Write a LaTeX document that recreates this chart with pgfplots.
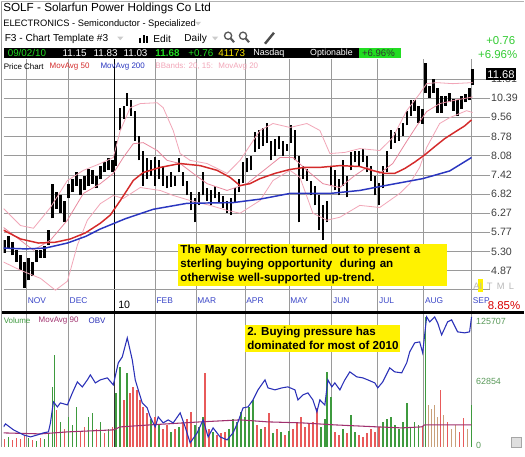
\documentclass[border=0pt]{standalone}
\usepackage{pgfplots}
\usepackage{pgfplotstable}
\pgfplotsset{compat=1.18}
\usepackage{fontspec}
\setmainfont{Liberation Sans}
\newcommand\fs[1]{\fontsize{#1}{#1}\selectfont}
\definecolor{mared}{HTML}{D42A2A}
\definecolor{mablue}{HTML}{2A36C0}
\definecolor{bbpink}{HTML}{F2A6B8}
\definecolor{mapink}{HTML}{E8889E}
\definecolor{vgreen}{HTML}{3E9A3E}
\definecolor{vred}{HTML}{E85A5A}
\definecolor{vtan}{HTML}{C8A07A}
\definecolor{obvblue}{HTML}{2A30B8}
\definecolor{mapurple}{HTML}{A0306E}
\definecolor{gridgray}{HTML}{9A9A9A}
\definecolor{monthblue}{HTML}{3A46C8}
\definecolor{hdrgreen}{HTML}{33CC33}
\definecolor{brightgreen}{HTML}{22DD22}
\definecolor{lblgreen}{HTML}{5A9A5A}

\pgfplotstableread{
x lo hi
4 5.26 5.57
8 5.38 5.67
12 5.21 5.52
16 5.06 5.33
20 4.88 5.21
24 4.51 5.06
28 4.67 5.15
32 4.75 5.06
36 5.06 5.33
40 5.15 5.33
44 5.15 5.43
48 5.45 5.82
52 6.13 7.14
56 6.40 6.87
60 6.29 6.78
64 6.02 6.63
68 6.69 7.14
72 6.87 7.30
76 7.08 7.50
80 6.78 7.30
84 6.93 7.37
88 7.08 7.63
92 7.14 7.57
96 6.99 7.40
100 7.30 7.73
104 7.50 7.84
108 7.57 7.98
112 7.50 7.91
116 7.73 8.63
120 9.02 9.97
124 9.50 10.06
127 10.06 10.64
131 9.63 10.29
135 8.63 9.84
139 7.91 8.82
143 7.08 8.26
147 7.30 7.98
151 7.40 7.91
155 7.08 8.04
159 7.30 7.91
163 7.08 7.73
167 6.99 7.40
171 7.05 7.50
175 7.08 7.40
179 7.50 7.98
183 7.08 7.50
187 6.78 7.24
191 6.35 6.87
195 6.02 6.69
199 6.49 6.87
203 6.78 7.50
207 6.63 6.99
211 6.49 6.93
215 6.69 7.08
219 6.57 6.87
223 6.43 6.75
227 6.29 6.63
231 6.21 6.69
235 6.57 6.99
239 6.87 7.30
243 7.17 7.84
247 7.50 7.98
251 7.57 8.08
255 8.19 8.94
259 8.33 9.02
263 8.44 9.10
267 8.55 9.34
271 7.91 8.63
275 8.08 8.70
279 8.33 8.82
283 8.08 8.63
287 8.26 8.51
291 8.55 9.22
295 7.91 9.02
299 6.02 8.08
303 7.30 7.73
307 7.24 7.63
311 6.78 7.24
315 6.49 7.08
319 5.82 6.78
323 5.57 6.49
327 6.02 6.63
331 7.08 7.73
335 6.93 7.57
339 6.78 7.30
343 7.08 7.91
347 6.72 7.40
351 7.57 8.19
355 7.84 8.26
359 7.73 8.26
363 7.84 8.33
367 7.50 8.08
371 7.24 7.73
375 6.78 7.40
379 6.49 7.17
383 6.99 7.73
387 7.50 8.26
391 8.33 9.02
395 8.55 8.94
399 8.63 9.10
403 8.82 9.34
407 9.22 9.84
411 9.63 10.29
415 9.84 10.29
419 9.34 10.06
423 9.30 9.93
426 10.64 12.11
430 10.42 10.99
434 10.64 11.33
438 9.76 10.85
442 9.76 10.51
446 10.06 10.51
450 10.20 10.64
454 9.84 10.38
458 9.63 10.29
462 9.93 10.51
466 10.20 10.60
470 10.29 10.85
473 11.03 11.83
}\candles

\pgfplotstableread{
x y
3 5.82
20 5.60
38 5.50
55 5.52
70 5.60
85 5.75
100 6.00
110 6.22
120 6.63
127 6.95
133 7.24
143 7.50
160 7.67
180 7.80
200 7.73
217 7.57
230 7.34
240 7.08
250 7.14
260 7.30
275 7.47
290 7.60
305 7.67
320 7.67
340 7.73
360 7.70
372 7.57
385 7.47
395 7.47
405 7.63
415 7.85
425 8.10
435 8.40
445 8.70
455 8.95
465 9.20
472 9.45
}\maf

\pgfplotstableread{
x y
3 5.38
25 5.36
45 5.38
67 5.50
85 5.66
100 5.85
125 6.12
153 6.38
187 6.55
233 6.57
260 6.67
290 6.84
330 6.84
360 6.93
380 7.05
423 7.30
450 7.55
472 8.01
}\mab

\pgfplotstableread{
x y
3 6.40
20 5.94
33 5.87
50 6.43
67 7.24
83 7.57
100 7.80
113 8.01
120 9.02
130 9.97
140 10.15
157 10.19
163 9.97
173 9.02
180 8.15
190 7.91
207 7.80
227 7.47
240 7.91
260 9.02
273 9.30
290 9.14
307 9.30
320 9.02
330 8.15
345 8.19
360 8.33
380 8.26
393 8.74
407 9.84
420 10.60
427 11.08
437 11.13
453 11.08
473 11.13
}\ub

\pgfplotstableread{
x y
3 5.06
20 4.88
40 4.71
55 4.47
67 4.65
77 5.45
87 6.08
100 6.54
113 6.78
123 6.69
140 7.02
160 6.93
173 6.78
190 6.63
210 6.49
227 6.35
240 6.27
260 6.63
273 7.24
290 7.57
300 7.34
313 6.27
327 6.08
340 6.16
360 6.49
380 6.43
400 6.84
410 7.14
420 7.67
427 8.37
440 9.30
450 9.54
467 9.84
473 9.76
}\lb

\pgfplotstableread{
x y
3 5.89
33 5.33
50 5.57
67 6.08
83 6.84
100 7.14
113 7.47
123 8.01
133 8.51
143 8.55
157 8.26
167 7.91
180 7.80
193 7.47
207 7.14
227 6.93
247 7.14
260 7.47
280 8.01
293 8.01
307 7.57
323 7.14
340 7.02
355 7.40
367 7.67
380 7.47
393 7.80
407 8.60
417 9.20
427 9.80
440 10.15
455 10.30
473 10.45
}\mat

\pgfplotstableread{
x v
8 10000
28 9000
36 6000
44 8000
48 14000
52 60000
54 92000
60 25000
68 30000
72 22000
76 40000
88 30000
92 34000
100 25000
108 18000
116 54000
120 80000
127 74000
151 28000
159 22000
171 15000
179 20000
195 22000
199 20000
203 30000
213 15000
229 18000
233 28000
237 25000
241 35000
245 30000
249 40000
253 47000
261 18000
273 14000
281 15000
289 16000
321 20000
325 28000
327 75000
331 50000
343 18000
351 32000
355 15000
383 25000
387 28000
391 30000
395 22000
399 18000
403 25000
407 44000
411 20000
415 25000
419 22000
426 130000
472 42000
}\volg

\pgfplotstableread{
x v
4 8000
12 7000
16 9000
20 8000
24 12000
32 7000
40 9000
56 37000
64 18000
80 15000
84 20000
96 18000
104 14000
112 20000
124 47000
130 54000
133 60000
137 57000
140 47000
143 40000
147 34000
155 30000
163 18000
167 22000
175 18000
183 25000
187 28000
191 35000
205 74000
209 18000
217 12000
221 14000
225 15000
257 22000
265 20000
269 34000
277 18000
285 12000
293 18000
297 25000
301 30000
305 20000
309 24000
313 25000
317 39000
335 15000
339 12000
347 14000
359 12000
363 10000
367 14000
371 18000
375 15000
379 20000
423 20000
441 57000
448 25000
460 15000
464 29000
}\volr

\pgfplotstableread{
x v
429 42000
432 38000
435 42000
438 30000
444 32000
452 18000
456 22000
468 18000
}\volt

\pgfplotstableread{
x v
3 20000
5 23000
13 17000
23 12000
30 10000
37 12000
43 14000
48 15000
50 24000
53 45000
57 40000
60 44000
67 42000
72 54000
77 65000
82 60000
87 67000
90 72000
95 64000
100 67000
107 69000
113 62000
118 84000
122 90000
127 109000
132 87000
135 67000
138 57000
142 44000
147 39000
150 30000
155 20000
158 30000
163 24000
168 27000
173 24000
180 34000
185 20000
190 4000
197 14000
203 27000
208 10000
213 19000
220 10000
227 7000
233 14000
238 25000
243 39000
248 40000
253 47000
258 57000
265 67000
268 59000
275 57000
282 59000
288 60000
295 57000
298 47000
303 52000
308 54000
313 47000
317 35000
320 47000
325 42000
328 67000
332 60000
335 64000
340 57000
345 67000
350 75000
357 70000
363 69000
368 67000
375 64000
378 59000
383 65000
390 79000
395 75000
402 74000
407 84000
410 95000
415 104000
420 105000
423 94000
427 130000
430 125000
435 130000
438 124000
442 112000
448 125000
452 127000
458 115000
465 114000
470 115000
472 130000
}\obv

\pgfplotstableread{
x v
3 14000
40 13000
67 15000
113 17000
120 20000
150 22000
200 25000
240 27000
268 25000
302 24000
335 22000
378 20000
402 19000
422 20000
425 22000
472 22000
}\mavol

\begin{document}
\begin{tikzpicture}
\begin{scope}[x=0.75pt,y=-0.75pt]
\useasboundingbox (0,0) rectangle (525,447);
\fill[white] (0,0) rectangle (525,447);
\end{scope}

% ---------------- price panel
\begin{axis}[
  at={(2.25pt,-43.5pt)}, anchor=north west, scale only axis,
  width=365.25pt, height=189.75pt,
  xmin=3, xmax=490, ymode=log, ymin=4.077, ymax=12.365,
  axis line style={draw=none}, major tick length=0pt,
  xtick={26,68,155,196,245,289,332,378,424,472},
  xticklabels={NOV,DEC,FEB,MAR,APR,MAY,JUN,JUL,AUG,SEP},
  xticklabel style={anchor=south west, font=\fs{6.3}, text=monthblue, xshift=0.8pt, yshift=5.5pt, inner sep=0pt},
  extra x ticks={114}, extra x tick labels={10},
  extra x tick style={grid style={black, line width=0.8pt}, xticklabel style={text=black, font=\fs{8}, yshift=-4pt, xshift=2pt}},
  ytick={4.87,5.30,5.77,6.27,6.82,7.42,8.08,8.78,9.56,10.39,11.31},
  yticklabels={4.87,5.30,5.77,6.27,6.82,7.42,8.08,8.78,9.56,10.39,11.31},
  yticklabel pos=right,
  yticklabel style={anchor=west, font=\fs{8}, text=black!75, inner sep=1pt},
  extra y ticks={4.48}, extra y tick labels={},
  grid=major, grid style={gridgray, line width=0.6pt},
]
\addplot[only marks, mark=*, mark size=0pt, mark options={draw=none, fill=none},
  error bars/.cd, y dir=plus, y explicit, error mark=none,
  error bar style={draw=black, line width=1.8pt}]
  table[x=x, y=lo, y error expr=\thisrow{hi}-\thisrow{lo}] {\candles};
\addplot[bbpink, line width=0.6pt, mark=none] table {\ub};
\addplot[bbpink, line width=0.6pt, mark=none] table {\lb};
\addplot[mapink, line width=0.6pt, mark=none] table {\mat};
\addplot[mablue, line width=1.1pt, mark=none] table {\mab};
\addplot[mared, line width=1.1pt, mark=none] table {\maf};
\end{axis}

% ---------------- volume panel
\begin{axis}[
  at={(2.25pt,-235.5pt)}, anchor=north west, scale only axis,
  width=354pt, height=99.75pt,
  xmin=3, xmax=475, ymin=0, ymax=132690,
  axis line style={draw=none}, major tick length=0pt,
  xtick={26,68,155,196,245,289,332,378,424,472}, xticklabels={},
  extra x ticks={114}, extra x tick labels={},
  extra x tick style={grid style={black!80, line width=0.8pt}},
  xmajorgrids, grid style={gridgray, line width=0.6pt},
  scaled y ticks=false,
  ytick={0,62854,125707},
  yticklabels={\raisebox{3pt}{0},\raisebox{4pt}{62854},125707},
  yticklabel pos=right,
  yticklabel style={anchor=west, font=\fs{6.7}, text=lblgreen, inner sep=1pt},
]
\addplot[ycomb, vgreen, line width=1.2pt, mark=none] table {\volg};
\addplot[ycomb, vred, line width=1.2pt, mark=none] table {\volr};
\addplot[ycomb, vtan, line width=1.2pt, mark=none] table {\volt};
\addplot[mapurple, line width=0.8pt, mark=none] table {\mavol};
\addplot[obvblue, line width=0.8pt, mark=none] table {\obv};
\end{axis}

\begin{scope}[x=0.75pt,y=-0.75pt]
% separator and frame
\fill[black] (0,311) rectangle (525,314);
\draw[gray!80, line width=1.2pt] (0.8,0) -- (0.8,447);
\draw[gray!60, line width=0.8pt] (0,0.5) -- (525,0.5);
\fill[gray!25] (512,437) rectangle (522,447);
\draw[gray!70] (512,437) rectangle (522,447);

% header
\node[anchor=west, font=\fs{8.8}, inner sep=0pt] at (2.5,8) {SOLF - Solarfun Power Holdings Co Ltd};
\node[anchor=west, font=\fs{7}, inner sep=0pt] at (2.5,23) {ELECTRONICS - Semiconductor - Specialized};
\fill[gray!40] (195,21) -- (201,21) -- (198,24.5) -- cycle;
\node[anchor=west, font=\fs{7.6}, inner sep=0pt] at (4,38) {F3 - Chart Template \#3};
\fill[gray!40] (117,36) -- (123,36) -- (120,39.5) -- cycle;
\fill[black] (139,37) rectangle (141,42);
\fill[black] (142.5,34) rectangle (144.5,42);
\fill[black] (146,35.5) rectangle (148,42);
\node[anchor=west, font=\fs{7.6}, inner sep=0pt] at (153,38) {Edit};
\node[anchor=west, font=\fs{7.6}, inner sep=0pt] at (184,38) {Daily};
\fill[gray!40] (212,36) -- (218,36) -- (215,39.5) -- cycle;
\draw[gray!70!black, line width=1pt] (228,35) circle (3.6);
\draw[gray!70!black, line width=1.6pt] (230.6,37.6) -- (234,41.5);
\draw[gray!70!black, line width=1pt] (243,35) circle (3.6);
\draw[gray!70!black, line width=1.6pt] (245.6,37.6) -- (249,41.5);
\draw[gray!60!black, line width=1.8pt] (265,43) -- (274,32);

\fill[black] (3,47) rectangle (359,57.5);
\fill[brightgreen] (359,47) rectangle (401,57.5);
\begin{scope}[every node/.style={anchor=west, inner sep=0pt, font=\fs{7.4}}]
\node[text=brightgreen] at (7,52.3) {09/02/10};
\node[text=white] at (62,52.3) {11.15};
\node[text=white] at (93,52.3) {11.83};
\node[text=white] at (123,52.3) {11.03};
\node[text=brightgreen, font=\bfseries\fs{7.4}] at (155,52.3) {11.68};
\node[text=brightgreen] at (188,52.3) {+0.76};
\node[text=yellow!90!orange] at (218,52.3) {41173};
\node[text=white, font=\fs{6.8}] at (253,52.3) {Nasdaq};
\node[text=white, font=\fs{6.6}] at (310,52.3) {Optionable};
\node[text=black!80, font=\fs{7.2}] at (362,52.3) {+6.96\%};
\end{scope}
\node[anchor=east, font=\fs{8.6}, text=hdrgreen, inner sep=0pt] at (516,40) {+0.76};
\node[anchor=east, font=\fs{8.6}, text=hdrgreen, inner sep=0pt] at (518,53.5) {+6.96\%};

% legend row
\begin{scope}[every node/.style={anchor=west, inner sep=0pt, font=\fs{6}}]
\node[text=black] at (3,65.5) {Price Chart};
\node[text=mared] at (49,65.5) {MovAvg 50};
\node[text=mablue] at (100,65.5) {MovAvg 200};
\node[text=bbpink] at (155,65.5) {BBands: 20, 15:};
\node[text=bbpink] at (218,65.5) {MovAvg 20};
\node[text=vgreen] at (3,320.5) {Volume};
\node[text=mapurple] at (38,320.5) {MovAvg 90};
\node[text=obvblue] at (88,320.5) {OBV};
\end{scope}

% last price tag
\node[fill=black, text=white, font=\fs{8.4}, inner sep=1.3pt] at (501.5,73.5) {11.68};

% AITML and percent
\fill[yellow] (478,279) rectangle (483.5,292);
\begin{scope}[every node/.style={anchor=west, inner sep=0pt, font=\fs{7}, text=gray!55}]
\node at (473.5,286) {A};
\node at (479.8,286) {I};
\node at (487,286) {T};
\node at (497,286) {M};
\node at (509,286) {L};
\end{scope}
\node[anchor=east, font=\fs{8.6}, text=red!85!black, inner sep=0pt] at (521,305) {8.85\%};

% annotations
\node[fill=yellow, anchor=north west, align=left, inner sep=1.5pt, text width=199pt,
  font=\bfseries\fontsize{8.7}{10.4}\selectfont] at (178,243)
  {The May correction turned out to present a\\ sterling buying opportunity \ during an\\ otherwise well-supported up-trend.};
\node[fill=yellow, anchor=north west, align=left, inner sep=1.5pt,
  font=\bfseries\fontsize{8.7}{10.4}\selectfont] at (245,325)
  {2. Buying pressure has\\ dominated for most of 2010};
\end{scope}
\end{tikzpicture}
\end{document}
